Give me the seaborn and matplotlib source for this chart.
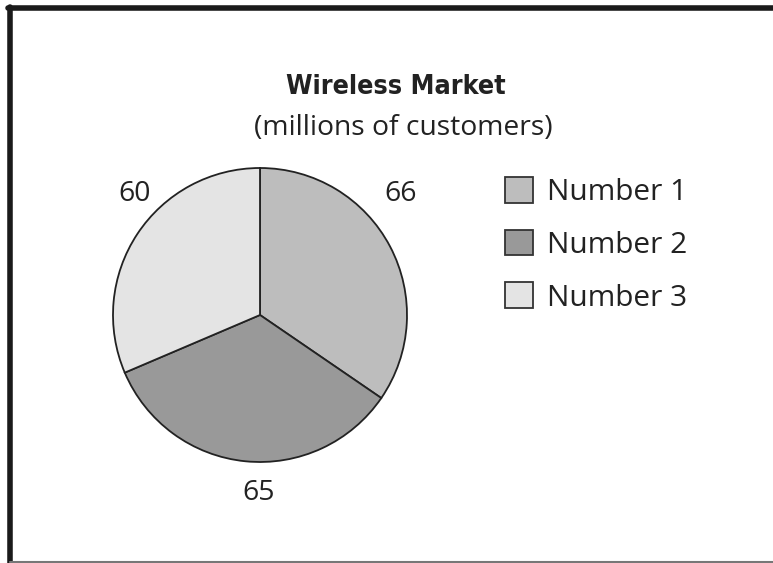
import matplotlib
matplotlib.use("Agg")
import matplotlib.pyplot as plt
import seaborn as sns
from matplotlib.patches import Patch
from matplotlib.lines import Line2D

categories = ["Number 1", "Number 2", "Number 3"]
values = [66, 65, 60]
colors = ["#bdbdbd", "#999999", "#e4e4e4"]
title = "Wireless Market"
subtitle = "(millions of customers)"

sns.set_theme(style="white")
plt.rcParams['font.family'] = ['Open Sans', 'DejaVu Sans']

W, H = 773, 563
fig = plt.figure(figsize=(W / 100, H / 100), dpi=100)
fig.patch.set_facecolor("white")

cx, cy, r = 260, 315, 147
ax = fig.add_axes([(cx - r) / W, (H - cy - r) / H, 2 * r / W, 2 * r / H])
wedges, _ = ax.pie(values, colors=colors, startangle=90, counterclock=False,
                   wedgeprops=dict(edgecolor="#222222", linewidth=1.3))
ax.set_xlim(-1, 1)
ax.set_ylim(-1, 1)
ax.set_aspect("equal")
ax.axis("off")

label_pos = [(0.96, 0.82), (-0.01, -1.21), (-0.85, 0.82)]
for v, (x, y) in zip(values, label_pos):
    ax.text(x, y, str(v), ha="center", va="center", fontsize=20.5, color="#222222",
            clip_on=False)

fig.text(396 / W, 1 - 87 / H, title, ha="center", va="center", fontsize=19.3,
         fontweight="bold", fontstretch="condensed", family=["DejaVu Sans"],
         color="#222222")
fig.text(403 / W, 1 - 128 / H, subtitle, ha="center", va="center", fontsize=20.3,
         color="#222222")

handles = [Patch(facecolor=c, edgecolor="#333333", linewidth=1.3) for c in colors]
leg = fig.legend(handles, categories, loc="upper left",
                 bbox_to_anchor=(505 / W, 1 - 177 / H), frameon=False,
                 fontsize=21.5, handlelength=0.94, handleheight=0.94,
                 handletextpad=0.47, labelspacing=0.76, borderpad=0,
                 borderaxespad=0)
for t in leg.get_texts():
    t.set_color("#222222")

# frame around the picture
fig.add_artist(Line2D([10 / W, 10 / W], [0, 1 - 7 / H], color="#1a1a1a", lw=4,
                      transform=fig.transFigure))
fig.add_artist(Line2D([8 / W, 1], [1 - 8 / H, 1 - 8 / H], color="#1a1a1a", lw=4,
                      transform=fig.transFigure))
fig.add_artist(Line2D([10 / W, 1], [1 - 561.5 / H, 1 - 561.5 / H], color="#777777",
                      lw=1.5, transform=fig.transFigure))

fig.savefig("out.png", dpi=100)
